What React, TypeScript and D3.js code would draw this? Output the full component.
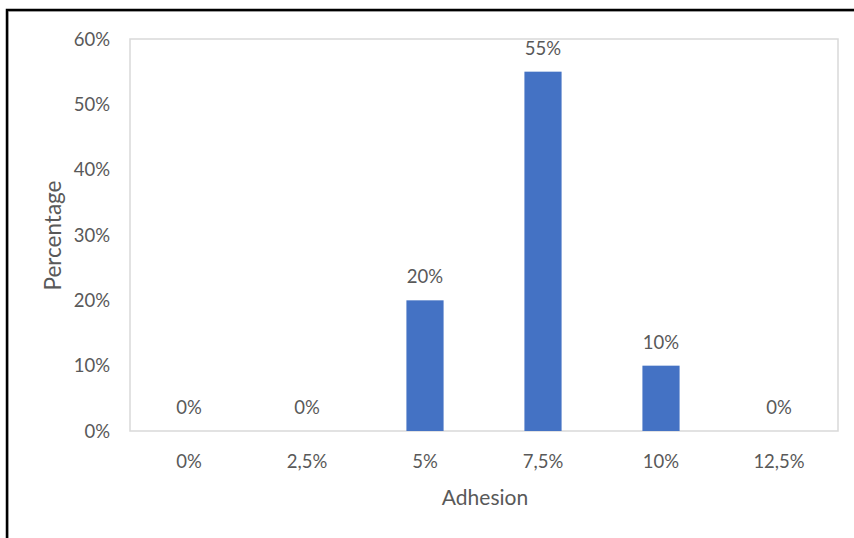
import React from "react";
import * as d3 from "d3";

const categories = ["0%", "2,5%", "5%", "7,5%", "10%", "12,5%"];
const values = [0, 0, 20, 55, 10, 0];
const yTicks = [0, 10, 20, 30, 40, 50, 60];

const W = 854;
const H = 538;
const plot = { left: 130, right: 838, top: 39, bottom: 431 };
const FONT = "Lato, 'Open Sans', sans-serif";
const TXT = "#595959";

export default function App() {
  const x = d3
    .scaleBand<string>()
    .domain(categories)
    .range([plot.left, plot.right])
    .paddingInner(0.685)
    .paddingOuter(0.3425);
  const y = d3.scaleLinear().domain([0, 60]).range([plot.bottom, plot.top]);
  const fmt = (v: number) => `${v}%`;

  return (
    <svg
      width={W}
      height={H}
      style={{ position: "absolute", left: 0, top: 0, background: "#fff" }}
      fontFamily={FONT}
    >
      <rect x={0} y={0} width={W} height={H} fill="#fff" />
      {/* outer frame */}
      <path d={`M 8.5 ${H + 5} V 11.5 H ${W + 5}`} fill="none" stroke="#d0d0d0" strokeWidth={1} />
      <path d={`M 7 ${H + 5} V 10 H ${W + 5}`} fill="none" stroke="#000" strokeWidth={2.5} />
      {/* plot border */}
      <rect
        x={plot.left}
        y={plot.top}
        width={plot.right - plot.left}
        height={plot.bottom - plot.top}
        fill="none"
        stroke="#d9d9d9"
        strokeWidth={1.5}
      />
      {/* y tick labels */}
      {yTicks.map((t) => (
        <text
          key={t}
          x={plot.left - 20}
          y={y(t)}
          dy="0.36em"
          textAnchor="end"
          fontSize={18.5}
          fill={TXT}
        >
          {fmt(t)}
        </text>
      ))}
      {/* bars */}
      {categories.map((c, i) => (
        <rect
          key={c}
          x={x(c)}
          y={y(values[i])}
          width={x.bandwidth()}
          height={plot.bottom - y(values[i])}
          fill="#4472C4"
        />
      ))}
      {/* data labels */}
      {categories.map((c, i) => (
        <text
          key={"l" + c}
          x={(x(c) as number) + x.bandwidth() / 2}
          y={y(values[i]) - 17}
          textAnchor="middle"
          fontSize={18.5}
          fill={TXT}
        >
          {fmt(values[i])}
        </text>
      ))}
      {/* x tick labels */}
      {categories.map((c) => (
        <text
          key={"x" + c}
          x={(x(c) as number) + x.bandwidth() / 2}
          y={468}
          textAnchor="middle"
          fontSize={18.5}
          fill={TXT}
        >
          {c}
        </text>
      ))}
      {/* axis titles */}
      <text x={485} y={505} textAnchor="middle" fontSize={21} fill={TXT}>
        Adhesion
      </text>
      <text
        transform={`translate(61, 235.5) rotate(-90)`}
        textAnchor="middle"
        fontSize={22.5}
        fill={TXT}
      >
        Percentage
      </text>
    </svg>
  );
}
